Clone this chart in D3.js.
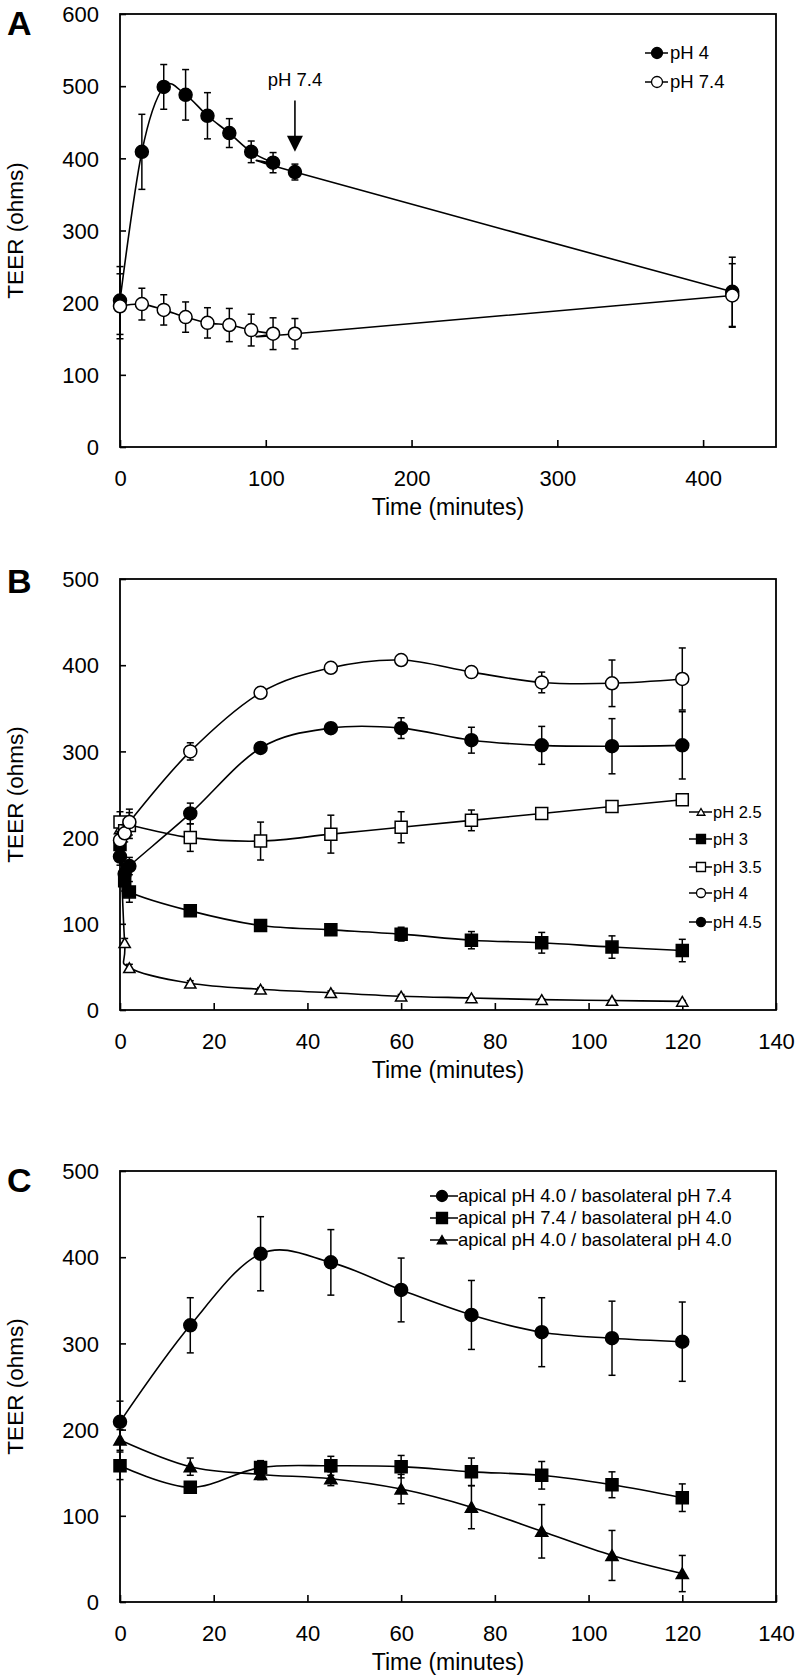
<!DOCTYPE html>
<html><head><meta charset="utf-8">
<script src="https://cdn.jsdelivr.net/npm/d3@7"></script>
<style>body{margin:0;background:#fff}svg{display:block}</style>
</head><body><svg id="c" width="806" height="1677"></svg>
<script>
const FONT = '"Liberation Sans", Arial, Helvetica, sans-serif';

// ---------- Panel A ----------
const timesA = [0, 15, 30, 45, 60, 75, 90, 105, 120, 420];
const aPH4 = [203, 409, 499, 488, 459, 435, 409, 394, 381, 215];
const aPH4Err = [47, 52, 31, 35, 32, 20, 15, 14, 11, 48];
const aPH74 = [195, 198, 190, 180, 172, 169, 162, 157, 157, 210];
const aPH74Err = [45, 22, 21, 21, 21, 23, 22, 22, 21, 44];
const xTicksA = [0, 100, 200, 300, 400];
const yTicksA = [0, 100, 200, 300, 400, 500, 600];
const legendA = ["pH 4", "pH 7.4"];
const annotA = {text: "pH 7.4", x: 120, label: 500, top: 480, tip: 409};

// ---------- Panel B ----------
const timesB = [0, 1, 2, 15, 30, 45, 60, 75, 90, 105, 120];
const bPH25 = [210, 78, 49, 31, 24, 20, 16, 14, 12, 11, 10];
const bPH25Err = [5, 5, 4, 3, 2, 2, 2, 1, 1, 1, 1];
const bPH3 = [192, 150, 137, 115, 98, 93, 88, 81, 78, 73, 69];
const bPH3Err = [15, 12, 12, 4, 5, 5, 8, 10, 12, 13, 13];
const bPH35 = [218, 208, 214, 200, 196, 204, 212, 220, 228, 236, 244];
const bPH35Err = [12, 10, 15, 16, 22, 22, 18, 12, 5, 5, 5];
const bPH4 = [197, 205, 218, 300, 368, 397, 406, 392, 380, 379, 384];
const bPH4Err = [10, 10, 15, 10, 5, 4, 4, 5, 12, 27, 36];
const bPH45 = [178, 158, 167, 228, 304, 327, 327, 313, 307, 306, 307];
const bPH45Err = [10, 10, 10, 12, 5, 5, 12, 15, 22, 32, 39];
const xTicksB = [0, 20, 40, 60, 80, 100, 120, 140];
const yTicksB = [0, 100, 200, 300, 400, 500];
const legendB = ["pH 2.5", "pH 3", "pH 3.5", "pH 4", "pH 4.5"];

// ---------- Panel C ----------
const timesC = [0, 15, 30, 45, 60, 75, 90, 105, 120];
const cApi4Baso74 = [209, 321, 404, 394, 362, 333, 313, 306, 302];
const cApi4Baso74Err = [24, 32, 43, 38, 37, 40, 40, 43, 46];
const cApi74Baso4 = [158, 133, 156, 158, 157, 151, 147, 136, 121];
const cApi74Baso4Err = [16, 6, 8, 11, 13, 16, 16, 15, 16];
const cApi4Baso4 = [188, 157, 148, 143, 131, 110, 82, 54, 33];
const cApi4Baso4Err = [12, 10, 6, 8, 17, 25, 31, 29, 21];
const xTicksC = [0, 20, 40, 60, 80, 100, 120, 140];
const yTicksC = [0, 100, 200, 300, 400, 500];
const legendC = ["apical pH 4.0 / basolateral pH 7.4", "apical pH 7.4 / basolateral pH 4.0", "apical pH 4.0 / basolateral pH 4.0"];

const svg = d3.select("#c");
svg.append("rect").attr("width", 806).attr("height", 1677).attr("fill", "#fff");

const symType = {circle: d3.symbolCircle, square: d3.symbolSquare, triangle: d3.symbolTriangle};
function sym(shape, size) {
  let area;
  if (shape === "circle") area = Math.PI * (size / 2) * (size / 2);
  else if (shape === "square") area = size * size;
  else area = Math.sqrt(3) / 4 * size * size * 0.75;
  return d3.symbol().type(symType[shape]).size(area)();
}

function panel(cfg) {
  const x = d3.scaleLinear().domain(cfg.xDomain).range([cfg.left, cfg.right]);
  const y = d3.scaleLinear().domain(cfg.yDomain).range([cfg.bottom, cfg.top]);
  const g = svg.append("g");

  const ax = g.append("g").attr("transform", `translate(0,${cfg.bottom})`)
    .call(d3.axisBottom(x).tickValues(cfg.xTicks).tickFormat(d3.format("d"))
      .tickSizeInner(-7).tickSizeOuter(0).tickPadding(23));
  const ay = g.append("g").attr("transform", `translate(${cfg.left},0)`)
    .call(d3.axisLeft(y).tickValues(cfg.yTicks).tickFormat(d3.format("d"))
      .tickSizeInner(-6).tickSizeOuter(0).tickPadding(21));
  [ax, ay].forEach(a => {
    a.attr("font-family", FONT).attr("font-size", 22);
    a.select(".domain").remove();
    a.selectAll("line").attr("stroke", "#000").attr("stroke-width", 1.6);
    a.selectAll("text").attr("fill", "#000");
  });
  ay.selectAll("text").attr("dy", "0.35em");

  g.append("rect").attr("x", cfg.left).attr("y", cfg.top)
    .attr("width", cfg.right - cfg.left).attr("height", cfg.bottom - cfg.top)
    .attr("fill", "none").attr("stroke", "#000").attr("stroke-width", 1.8);

  g.append("text").attr("x", (cfg.left + cfg.right) / 2).attr("y", cfg.bottom + 68)
    .attr("text-anchor", "middle").attr("font-family", FONT).attr("font-size", 23)
    .text("Time (minutes)");
  g.append("text").attr("transform", `translate(${15},${(cfg.top + cfg.bottom) / 2}) rotate(-90)`)
    .attr("text-anchor", "middle").attr("dy", "0.35em").attr("font-family", FONT).attr("font-size", 22.5)
    .text("TEER (ohms)");
  g.append("text").attr("x", 7).attr("y", cfg.letterY).attr("font-family", FONT)
    .attr("font-weight", "bold").attr("font-size", 34).text(cfg.letter);

  const line = d3.line().x(d => x(d.t)).y(d => y(d.v)).curve(d3.curveCardinal.tension(0));

  cfg.series.forEach(s => {
    const pts = s.times.map((t, i) => ({t, v: s.values[i], e: s.errs[i]}));
    g.append("path").datum(pts).attr("d", line).attr("fill", "none")
      .attr("stroke", "#000").attr("stroke-width", 1.6);
    const eb = g.append("g").attr("stroke", "#000").attr("stroke-width", 1.5);
    pts.forEach(p => {
      if (!p.e) return;
      const px = x(p.t), y1 = y(p.v + p.e), y2 = y(p.v - p.e);
      eb.append("line").attr("x1", px).attr("x2", px).attr("y1", y1).attr("y2", y2);
      eb.append("line").attr("x1", px - 3.5).attr("x2", px + 3.5).attr("y1", y1).attr("y2", y1);
      eb.append("line").attr("x1", px - 3.5).attr("x2", px + 3.5).attr("y1", y2).attr("y2", y2);
    });
    g.append("g").selectAll("path").data(pts).join("path")
      .attr("transform", p => `translate(${x(p.t)},${y(p.v) + (s.shape === "triangle" ? 1.5 : 0)})`)
      .attr("d", sym(s.shape, s.size))
      .attr("fill", s.filled ? "#000" : "#fff").attr("stroke", "#000").attr("stroke-width", 1.5);
  });

  const L = cfg.legend;
  cfg.series.forEach((s, i) => {
    const ly = L.ys[i];
    g.append("line").attr("x1", L.x0).attr("x2", L.x1).attr("y1", ly).attr("y2", ly)
      .attr("stroke", "#000").attr("stroke-width", 1.5);
    g.append("path").attr("transform", `translate(${L.mx},${ly + (s.shape === "triangle" ? 1 : 0)})`)
      .attr("d", sym(s.shape, L.msize))
      .attr("fill", s.filled ? "#000" : "#fff").attr("stroke", "#000").attr("stroke-width", 1.3);
    g.append("text").attr("x", L.tx).attr("y", ly).attr("dy", "0.35em")
      .attr("font-family", FONT).attr("font-size", L.fs).text(L.labels[i]);
  });

  if (cfg.annot) {
    const a = cfg.annot, ax0 = x(a.x);
    g.append("text").attr("x", ax0).attr("y", y(a.label)).attr("text-anchor", "middle")
      .attr("font-family", FONT).attr("font-size", 18.5).text(a.text);
    g.append("line").attr("x1", ax0).attr("x2", ax0).attr("y1", y(a.top)).attr("y2", y(a.tip) - 14)
      .attr("stroke", "#000").attr("stroke-width", 1.6);
    const tipY = y(a.tip);
    g.append("path").attr("d", `M${ax0 - 8},${tipY - 16}L${ax0 + 8},${tipY - 16}L${ax0},${tipY}Z`)
      .attr("fill", "#000");
  }
}

panel({
  left: 120, right: 776, top: 14, bottom: 447, letter: "A", letterY: 35,
  xDomain: [0, 450], yDomain: [0, 600], xTicks: xTicksA, yTicks: yTicksA,
  series: [
    {times: timesA, values: aPH4, errs: aPH4Err, shape: "circle", filled: true, size: 13},
    {times: timesA, values: aPH74, errs: aPH74Err, shape: "circle", filled: false, size: 13}
  ],
  legend: {labels: legendA, ys: [53, 82], x0: 645, x1: 668, mx: 657, tx: 670, fs: 18.5, msize: 11},
  annot: annotA
});

panel({
  left: 120, right: 776, top: 579, bottom: 1010, letter: "B", letterY: 593,
  xDomain: [0, 140], yDomain: [0, 500], xTicks: xTicksB, yTicks: yTicksB,
  series: [
    {times: timesB, values: bPH25, errs: bPH25Err, shape: "triangle", filled: false, size: 13},
    {times: timesB, values: bPH3, errs: bPH3Err, shape: "square", filled: true, size: 12},
    {times: timesB, values: bPH35, errs: bPH35Err, shape: "square", filled: false, size: 12},
    {times: timesB, values: bPH4, errs: bPH4Err, shape: "circle", filled: false, size: 13},
    {times: timesB, values: bPH45, errs: bPH45Err, shape: "circle", filled: true, size: 13}
  ],
  legend: {labels: legendB, ys: [812, 839, 867, 893, 922], x0: 689, x1: 712, mx: 701, tx: 713, fs: 16.5, msize: 9}
});

panel({
  left: 120, right: 776, top: 1171, bottom: 1602, letter: "C", letterY: 1192,
  xDomain: [0, 140], yDomain: [0, 500], xTicks: xTicksC, yTicks: yTicksC,
  series: [
    {times: timesC, values: cApi4Baso74, errs: cApi4Baso74Err, shape: "circle", filled: true, size: 13},
    {times: timesC, values: cApi74Baso4, errs: cApi74Baso4Err, shape: "square", filled: true, size: 12},
    {times: timesC, values: cApi4Baso4, errs: cApi4Baso4Err, shape: "triangle", filled: true, size: 14}
  ],
  legend: {labels: legendC, ys: [1196, 1218, 1240], x0: 430, x1: 458, mx: 442, tx: 458, fs: 18.5, msize: 11}
});
</script>
</body></html>
